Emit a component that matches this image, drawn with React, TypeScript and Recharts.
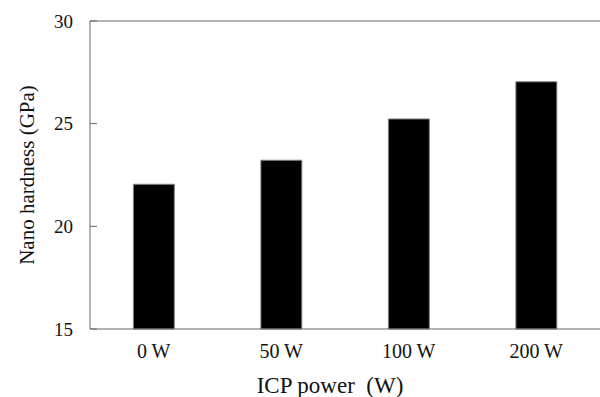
import { BarChart, Bar, XAxis, YAxis, ReferenceLine, Label } from "recharts"

const powers = ["0 W", "50 W", "100 W", "200 W"]
const hardness = [22.05, 23.22, 25.23, 27.04]
const yTicks = [15, 20, 25, 30]

const chartData = powers.map((p, i) => ({ power: p, hardness: hardness[i] }))

const font = "'Liberation Serif', 'Times New Roman', serif"
const axisColor = "#666"

export default function App() {
  return (
    <div style={{ position: "absolute", left: 0, top: 0, background: "#fff" }}>
      <BarChart
        width={600}
        height={397}
        data={chartData}
        margin={{ top: 21, right: 0, left: 0, bottom: 0 }}
        barCategoryGap="34%"
      >
        <XAxis
          dataKey="power"
          height={68}
          stroke={axisColor}
          tickLine={false}
          tickSize={0}
          tickMargin={15}
          tick={{ fill: "#111", fontSize: 20, fontFamily: font }}
        >
          <Label
            content={(props: any) => {
              const vb = props.viewBox
              return (
                <text
                  x={vb.x + vb.width / 2 - 15}
                  y={393}
                  textAnchor="middle"
                  fontSize={23}
                  fontFamily={font}
                  fill="#111"
                  style={{ whiteSpace: "pre" }}
                >
                  {"ICP power  (W)"}
                </text>
              )
            }}
          />
        </XAxis>
        <YAxis
          width={90}
          domain={[15, 30]}
          ticks={yTicks}
          interval={0}
          stroke={axisColor}
          tickSize={-7}
          tickMargin={24}
          tick={{ fill: "#111", fontSize: 19, fontFamily: font }}
        >
          <Label
            content={(props: any) => {
              const vb = props.viewBox
              const cx = 27
              const cy = vb.y + vb.height / 2
              return (
                <text
                  x={cx}
                  y={cy}
                  transform={`rotate(-90, ${cx}, ${cy})`}
                  textAnchor="middle"
                  dominantBaseline="central"
                  fontSize={21}
                  fontFamily={font}
                  fill="#111"
                >
                  Nano hardness (GPa)
                </text>
              )
            }}
          />
        </YAxis>
        <ReferenceLine y={30} stroke={axisColor} ifOverflow="extendDomain" />
        <Bar dataKey="hardness" fill="#000" stroke="#888" strokeWidth={1} isAnimationActive={false} />
      </BarChart>
    </div>
  )
}
